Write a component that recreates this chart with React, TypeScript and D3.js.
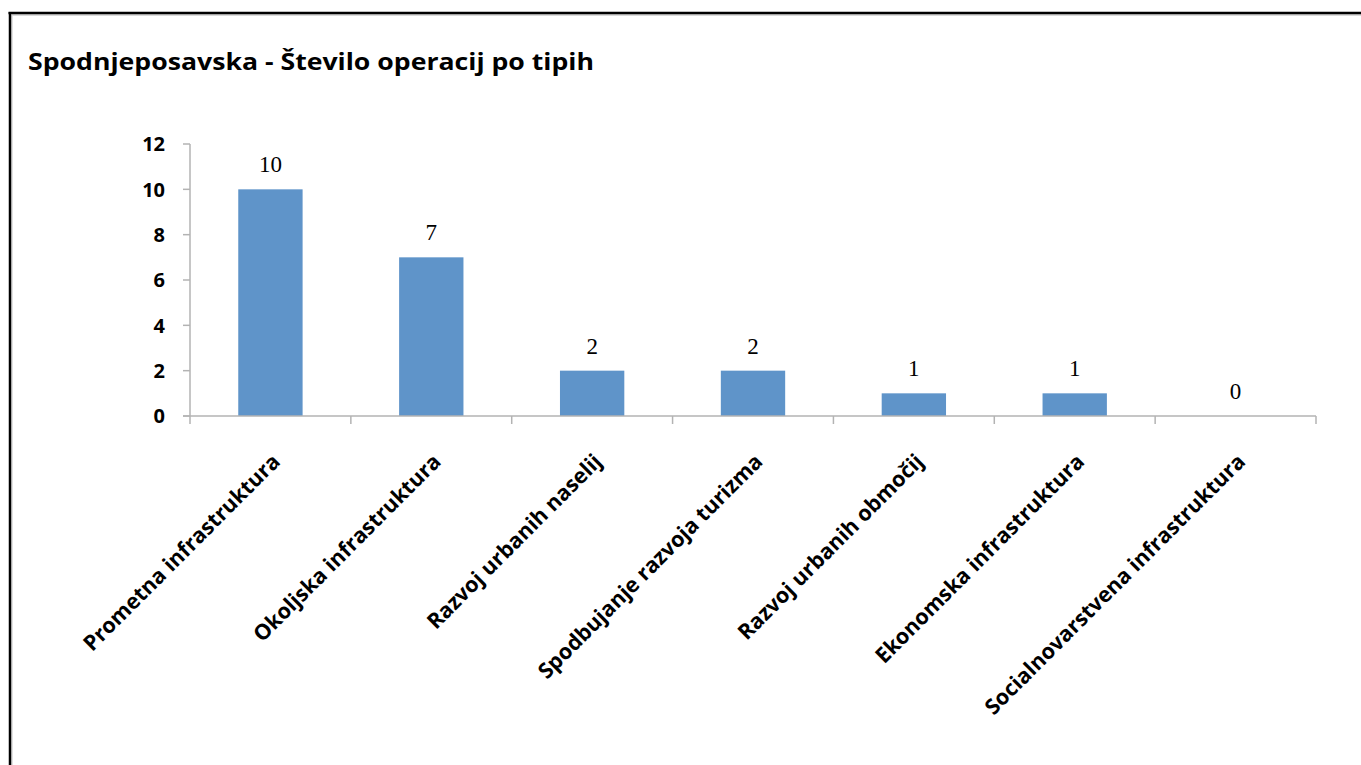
import React from "react";
import * as d3 from "d3";

const categories = [
  "Prometna infrastruktura",
  "Okoljska infrastruktura",
  "Razvoj urbanih naselij",
  "Spodbujanje razvoja turizma",
  "Razvoj urbanih območij",
  "Ekonomska infrastruktura",
  "Socialnovarstvena infrastruktura",
];
const values = [10, 7, 2, 2, 1, 1, 0];
const yTicks = [0, 2, 4, 6, 8, 10, 12];
const title = "Spodnjeposavska - Število operacij po tipih";

const W = 1361;
const H = 765;
const left = 190;
const right = 1316;
const top = 144;
const bottom = 416;

const sans = "'Open Sans', 'Noto Sans', sans-serif";
const serif = "'Liberation Serif', 'DejaVu Serif', serif";

export default function App() {
  const x = d3.scaleBand<string>().domain(categories).range([left, right]).padding(0);
  const y = d3.scaleLinear().domain([0, 12]).range([bottom, top]);
  const bw = x.bandwidth();
  const barW = bw * 0.4;
  const axisColor = "#b3b3b3";

  return (
    <svg width={W} height={H} style={{ position: "absolute", left: 0, top: 0, background: "#fff" }}>
      {/* frame */}
      <line x1={12} y1={15} x2={W} y2={15} stroke="#d9d9d9" strokeWidth={2} />
      <line x1={12} y1={15} x2={12} y2={H} stroke="#d9d9d9" strokeWidth={1.5} />
      <line x1={8.5} y1={13} x2={W} y2={13} stroke="#000" strokeWidth={2.5} />
      <line x1={10} y1={12} x2={10} y2={H} stroke="#000" strokeWidth={2.5} />

      <text
        x={28}
        y={70}
        fontFamily={sans}
        fontWeight={700}
        fontSize={23.5}
        textLength={566}
        lengthAdjust="spacingAndGlyphs"
        fill="#000"
      >
        {title}
      </text>

      {/* bars */}
      {categories.map((c, i) => (
        <rect
          key={c}
          x={(x(c) as number) + (bw - barW) / 2}
          y={y(values[i])}
          width={barW}
          height={bottom - y(values[i])}
          fill="#5f94c9"
        />
      ))}

      {/* y axis */}
      <line x1={left} y1={top} x2={left} y2={bottom} stroke={axisColor} strokeWidth={1.5} />
      {yTicks.map((t) => (
        <g key={t}>
          <line x1={left - 7} y1={y(t)} x2={left} y2={y(t)} stroke={axisColor} strokeWidth={1.5} />
          <text
            x={165}
            y={y(t)}
            dy="0.36em"
            textAnchor="end"
            fontFamily={sans}
            fontWeight={700}
            fontSize={20}
            fill="#000"
          >
            {t}
          </text>
        </g>
      ))}

      {/* x axis */}
      <line x1={left - 7} y1={bottom} x2={right} y2={bottom} stroke={axisColor} strokeWidth={1.5} />
      {[...categories.map((c) => x(c) as number), right].map((px, i) => (
        <line key={i} x1={px} y1={bottom} x2={px} y2={bottom + 8} stroke={axisColor} strokeWidth={1.5} />
      ))}

      {/* value labels */}
      {categories.map((c, i) => (
        <text
          key={c}
          x={(x(c) as number) + bw / 2}
          y={y(values[i]) - 17}
          textAnchor="middle"
          fontFamily={serif}
          fontSize={23}
          fill="#000"
        >
          {values[i]}
        </text>
      ))}

      {/* category labels */}
      {categories.map((c) => {
        const cx = (x(c) as number) + bw / 2 + 11;
        const cy = bottom + 47;
        return (
          <text
            key={c}
            transform={`translate(${cx},${cy}) rotate(-45)`}
            textAnchor="end"
            fontFamily={sans}
            fontWeight={700}
            fontSize={21.5}
            fill="#000"
          >
            {c}
          </text>
        );
      })}
    </svg>
  );
}
